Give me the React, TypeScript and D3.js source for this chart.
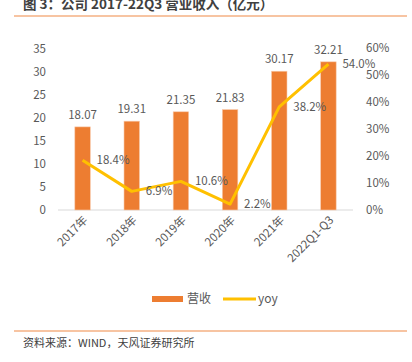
import React from "react";
import * as d3 from "d3";

const categories = ["2017年", "2018年", "2019年", "2020年", "2021年", "2022Q1-Q3"];
const revenue = [18.07, 19.31, 21.35, 21.83, 30.17, 32.21];
const yoy = [18.4, 6.9, 10.6, 2.2, 38.2, 54.0];
const leftTicks = [0, 5, 10, 15, 20, 25, 30, 35];
const rightTicks = [0, 10, 20, 30, 40, 50, 60];

const W = 412;
const H = 362;
const FONT = "'Microsoft YaHei', 'Noto Sans CJK SC', 'Noto Sans', sans-serif";
const TXT = "#595959";

export default function App() {
  const x = d3.scaleBand<string>().domain(categories).range([58, 353]).paddingInner(0.68).paddingOuter(0.34);
  const band = d3.scaleBand<string>().domain(categories).range([58, 353]);
  const yL = d3.scaleLinear().domain([0, 35]).range([210, 49]);
  const yR = d3.scaleLinear().domain([0, 60]).range([210, 48]);
  const cx = (c: string) => (band(c) as number) + band.bandwidth() / 2;
  const bw = 15.5;
  const line = d3
    .line<number>()
    .x((_, i) => cx(categories[i]))
    .y((d) => yR(d));

  return (
    <svg
      width={W}
      height={H}
      style={{ position: "absolute", left: 0, top: 0, background: "#fff" }}
      fontFamily={FONT}
    >
      <text x={23} y={9} fontSize={13.5} fontWeight="bold" fill="#404040">
        图 3：公司 2017-22Q3 营业收入（亿元）
      </text>
      <line x1={14} x2={407} y1={16} y2={16} stroke="#F4B183" strokeWidth={1.5} />

      {leftTicks.map((t) => (
        <text key={"l" + t} x={46} y={yL(t)} dy="0.35em" textAnchor="end" fontSize={11.5} fill={TXT}>
          {t}
        </text>
      ))}
      {rightTicks.map((t) => (
        <text key={"r" + t} x={366} y={yR(t)} dy="0.35em" textAnchor="start" fontSize={11.5} fill={TXT}>
          {t}%
        </text>
      ))}

      <line x1={58} x2={353} y1={210} y2={210} stroke="#D9D9D9" strokeWidth={1} />

      {categories.map((c, i) => (
        <g key={c}>
          <rect
            x={cx(c) - bw / 2}
            y={yL(revenue[i])}
            width={bw}
            height={210 - yL(revenue[i])}
            fill="#ED7D31"
            stroke="#F8CBAD"
            strokeWidth={0.6}
          />
          <text
            x={cx(c)}
            y={yL(revenue[i]) - 8}
            textAnchor="middle"
            fontSize={11.5}
            fill={TXT}
          >
            {revenue[i].toFixed(2)}
          </text>
          <text
            transform={`translate(${cx(c) + 3},${218}) rotate(-45)`}
            textAnchor="end"
            dy="0.35em"
            fontSize={11.5}
            fill={TXT}
          >
            {c}
          </text>
        </g>
      ))}

      <path d={line(yoy) || ""} fill="none" stroke="#FFC000" strokeWidth={3} strokeLinejoin="round" />

      {categories.map((c, i) => (
        <text
          key={"y" + c}
          x={cx(c) + 14}
          y={yR(yoy[i])}
          dy="0.35em"
          fontSize={11.5}
          fill={TXT}
        >
          {yoy[i].toFixed(1)}%
        </text>
      ))}

      <rect x={152} y={296} width={31} height={6} fill="#ED7D31" />
      <text x={187} y={299} dy="0.35em" fontSize={12} fill={TXT}>
        营收
      </text>
      <line x1={223} x2={256} y1={299} y2={299} stroke="#FFC000" strokeWidth={3} />
      <text x={258} y={299} dy="0.35em" fontSize={12} fill={TXT}>
        yoy
      </text>

      <line x1={14} x2={407} y1={331} y2={331} stroke="#F4B183" strokeWidth={1.5} />
      <text x={23} y={343} dy="0.35em" fontSize={11} fill="#404040">
        资料来源：WIND，天风证券研究所
      </text>
    </svg>
  );
}
